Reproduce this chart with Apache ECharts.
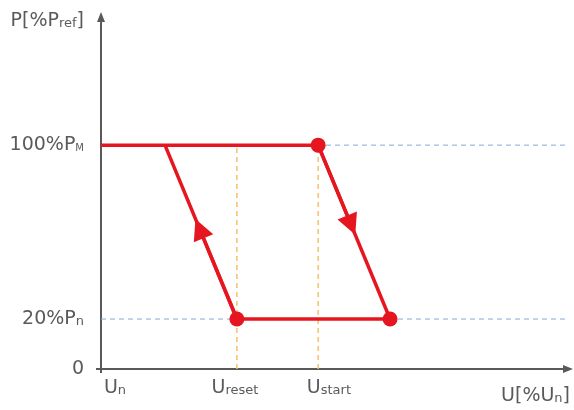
<!DOCTYPE html>
<html><head><meta charset="utf-8">
<script src="https://cdn.jsdelivr.net/npm/echarts@6/dist/echarts.min.js"></script>
<style>html,body{margin:0;padding:0;background:#fff}#c{width:574px;height:410px}</style>
</head><body><div id="c"></div>
<script>
// Schematic axes (arbitrary units 0..100)
const xMax = 100, yMax = 100;
const uReset = 29.1, uStart = 46.5, uLeftKnee = 13.7, uRightKnee = 61.9;
const pLow = 14.2, pHigh = 63.6;
// tick labels
const yLabelValues = [0, pLow, pHigh];
const yTickLabels = ['{b|0}', '{b|20%P}{s|n}', '{b|100%P}{m|M}'];
const xLabelValues = [3.0, 28.7, 48.8];
const xTickLabels = ['{b|U}{s|n}', '{b|U}{s|reset}', '{b|U}{s|start}'];
const yName = '{b|P[%P}{s|ref}{b|]}';
const xName = '{b|U[%U}{s|n}{b|]}';
// arrow positions as fraction along each diagonal
const arrowFracUp = 0.52, arrowFracDown = 0.46;

const RED = '#e5161f', AX = '#595959', TXT = '#5a5a5a';
const FONT = 'DejaVu Sans';
const rich = {
  b: {fontFamily: FONT, fontSize: 19, lineHeight: 24, color: TXT},
  s: {fontFamily: FONT, fontSize: 13, lineHeight: 16, verticalAlign: 'bottom', padding: [0, 0, 3, 0], color: TXT},
  m: {fontFamily: FONT, fontSize: 10, lineHeight: 14, verticalAlign: 'bottom', padding: [0, 0, 4, 0], color: TXT}
};
function lerp(a, b, t) { return [a[0] + (b[0] - a[0]) * t, a[1] + (b[1] - a[1]) * t]; }
function pick(values, labels, v) {
  let best = 0;
  values.forEach((x, i) => { if (Math.abs(x - v) < Math.abs(values[best] - v)) best = i; });
  return labels[best];
}

const upStart = [uReset, pLow], upEnd = [uLeftKnee, pHigh];
const downStart = [uStart, pHigh], downEnd = [uRightKnee, pLow];

const redLine = (data) => ({type: 'line', data, symbol: 'none', lineStyle: {color: RED, width: 3.5}, z: 5, animation: false});
const guide = (data, color, w) => ({type: 'line', data, symbol: 'none', lineStyle: {color, width: w, type: [5, 4]}, z: 2, animation: false, silent: true});

const chart = echarts.init(document.getElementById('c'), null, {renderer: 'canvas'});
chart.setOption({
  animation: false,
  textStyle: {fontFamily: FONT},
  grid: {left: 101, right: 6, top: 17, bottom: 41, outerBoundsMode: 'none', containLabel: false},
  xAxis: {
    type: 'value', min: 0, max: xMax,
    name: xName, nameLocation: 'end', nameGap: 2,
    nameTextStyle: {align: 'right', verticalAlign: 'top', padding: [15, 0, 0, 0], rich},
    axisLine: {show: true, lineStyle: {color: AX, width: 2}, symbol: ['none', 'triangle'], symbolSize: [8, 10]},
    axisTick: {show: true, customValues: [0], length: 4, lineStyle: {color: AX, width: 2}},
    axisLabel: {show: true, customValues: xLabelValues, margin: 7, rich, showMinLabel: true, showMaxLabel: true,
      formatter: (v) => pick(xLabelValues, xTickLabels, v)},
    splitLine: {show: false}
  },
  yAxis: {
    type: 'value', min: 0, max: yMax,
    name: yName, nameLocation: 'end', nameGap: -4,
    nameTextStyle: {align: 'right', verticalAlign: 'middle', padding: [0, 17, 0, 0], rich},
    axisLine: {show: true, lineStyle: {color: AX, width: 2}, symbol: ['none', 'triangle'], symbolSize: [8, 10]},
    axisTick: {show: true, customValues: [0], length: 5, lineStyle: {color: AX, width: 2}},
    axisLabel: {show: true, customValues: yLabelValues, margin: 17, rich, showMinLabel: true, showMaxLabel: true,
      formatter: (v) => pick(yLabelValues, yTickLabels, v)},
    splitLine: {show: false}
  },
  series: [
    guide([[0, pHigh], [xMax, pHigh]], '#8aa6d8', 1),
    guide([[0, pLow], [xMax, pLow]], '#8aa6d8', 1),
    guide([[uReset, 0], [uReset, pHigh]], '#f8bf6a', 1.5),
    guide([[uStart, 0], [uStart, pHigh]], '#f8bf6a', 1.5),
    redLine([[0, pHigh], [uStart, pHigh]]),
    redLine([downStart, downEnd]),
    redLine([[uReset, pLow], [uRightKnee, pLow]]),
    redLine([upStart, upEnd]),
    {
      type: 'lines', coordinateSystem: 'cartesian2d', z: 6, animation: false,
      symbol: ['none', 'triangle'], symbolSize: [16, 21],
      lineStyle: {color: RED, width: 3.5, opacity: 1},
      data: [
        {coords: [upStart, lerp(upStart, upEnd, arrowFracUp)]},
        {coords: [downStart, lerp(downStart, downEnd, arrowFracDown)]}
      ]
    },
    {
      type: 'scatter', z: 7, animation: false, symbol: 'circle', symbolSize: 15,
      itemStyle: {color: RED, opacity: 1},
      data: [[uStart, pHigh], [uRightKnee, pLow], [uReset, pLow]]
    }
  ]
});
</script></body></html>
